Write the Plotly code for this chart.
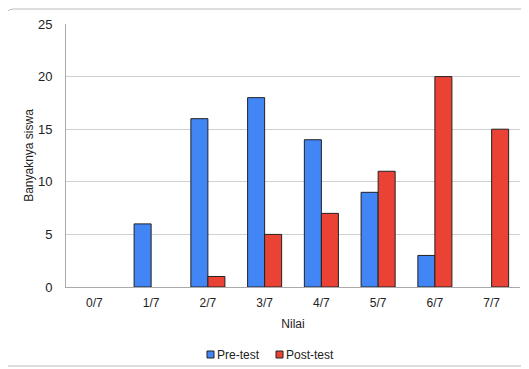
import plotly.graph_objects as go

categories = ["0/7", "1/7", "2/7", "3/7", "4/7", "5/7", "6/7", "7/7"]
pre_test = [0, 6, 16, 18, 14, 9, 3, 0]
post_test = [0, 0, 1, 5, 7, 11, 20, 15]
series_names = ["Pre-test", "Post-test"]
series_colors = ["#4285F4", "#EA4335"]

def nz(vals):
    return [v if v != 0 else None for v in vals]

fig = go.Figure()
for vals, name, col in zip([pre_test, post_test], series_names, series_colors):
    fig.add_trace(go.Bar(x=categories, y=nz(vals), name=name,
                         marker=dict(color=col, line=dict(color="#222222", width=1))))

OFF = 8  # page body margin
W, H = 529 - OFF, 369 - OFF
L, T = 66 - OFF, 24 - OFF
R = W - (520 - OFF)
B = H - (287 - OFF)
pw, ph = W - L - R, H - T - B

def px(x):
    return (x - OFF - L) / pw

def py(y):
    return (H - B - (y - OFF)) / ph

x0, x1, y0, y1 = px(5), px(525), py(9), py(366)
rx, ry = 9 / pw, 9 / ph
path = (f"M {x0+rx},{y0} L {x1},{y0} L {x1},{y1} L {x0},{y1} L {x0},{y0-ry} "
        f"Q {x0},{y0} {x0+rx},{y0} Z")

shapes = [dict(type="path", path=path, xref="paper", yref="paper",
               line=dict(color="#bbbbbb", width=1), layer="below")]
annotations = []
leg_x = [207, 276]
for lx, name, col in zip(leg_x, series_names, series_colors):
    shapes.append(dict(type="rect", xref="paper", yref="paper",
                       x0=px(lx), x1=px(lx + 7), y0=py(358), y1=py(351),
                       fillcolor=col, line=dict(color="#222222", width=1)))
    annotations.append(dict(text=name, xref="paper", yref="paper",
                            x=px(lx + 8), y=py(354.5), xanchor="left", yanchor="middle",
                            showarrow=False, font=dict(size=12, color="#222222")))

fig.update_layout(
    width=W, height=H,
    margin=dict(l=L, r=R, t=T, b=B, autoexpand=False),
    paper_bgcolor="white", plot_bgcolor="white",
    font=dict(family="Liberation Sans, Arial, sans-serif", size=12, color="#222222"),
    barmode="group", bargap=0.4, bargroupgap=0,
    showlegend=False,
    xaxis=dict(title=dict(text="Nilai", standoff=10, font=dict(size=12)),
               showline=True, linecolor="#aaaaaa", ticks="", showgrid=False,
               tickfont=dict(size=12), ticklabelstandoff=5, automargin=False),
    yaxis=dict(title=dict(text="Banyaknya siswa", standoff=1, font=dict(size=12)),
               range=[0, 25], dtick=5, showgrid=True, gridcolor="#d0d0d0",
               showline=True, linecolor="#aaaaaa", zeroline=False, ticks="",
               tickfont=dict(size=13), ticklabelstandoff=10, automargin=False),
    shapes=shapes,
    annotations=annotations,
)

fig.write_html("out.html")
